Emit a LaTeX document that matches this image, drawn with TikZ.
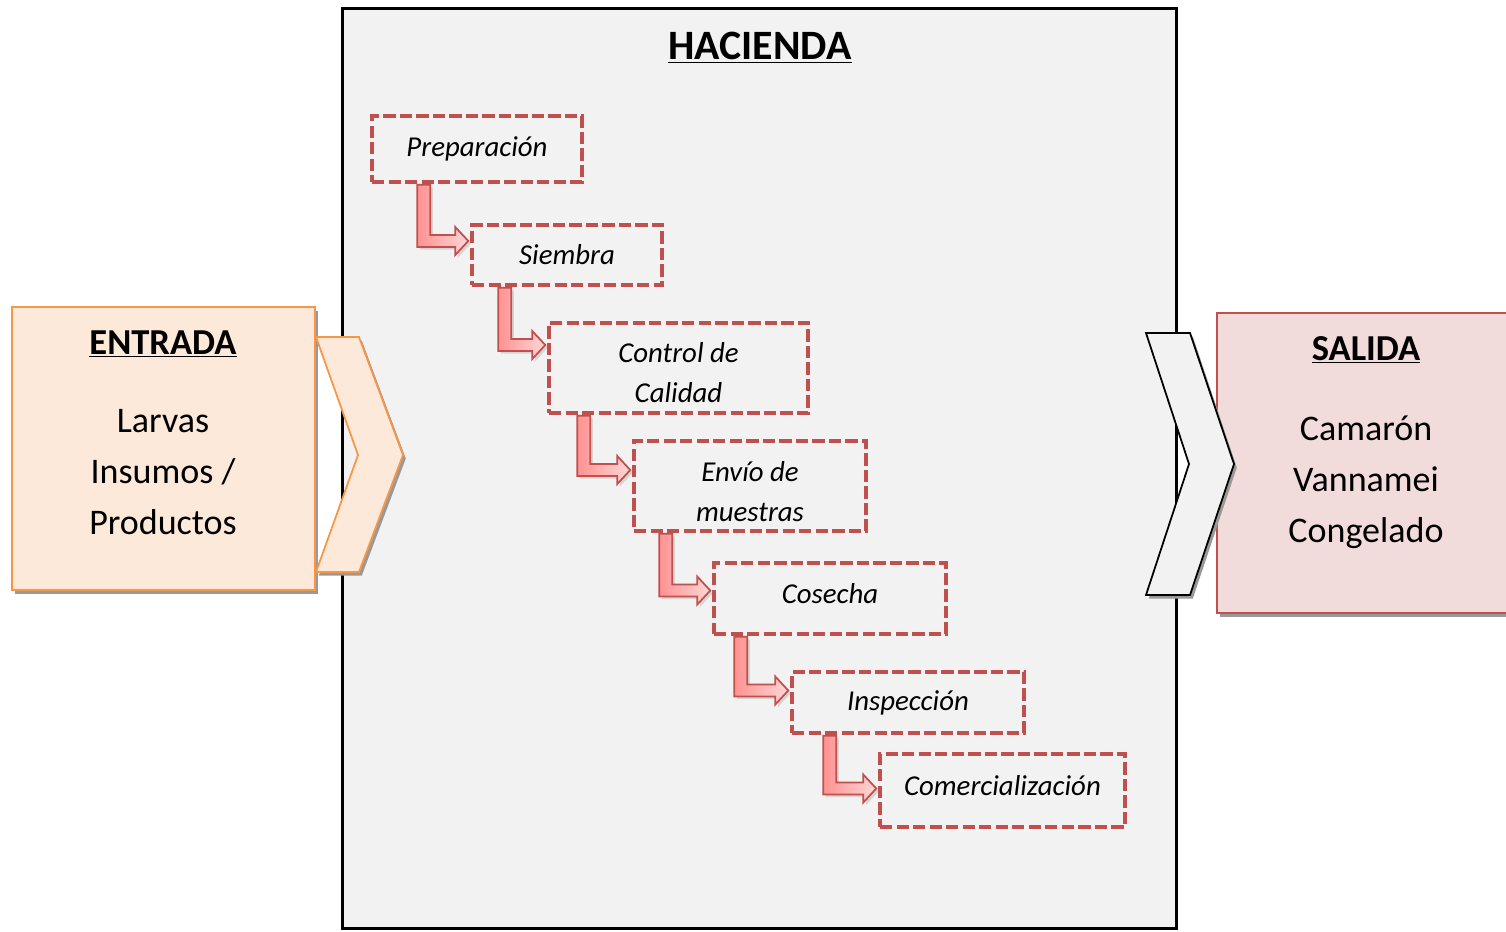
\documentclass[tikz,border=0pt]{standalone}
\usepackage{fontspec}
\setmainfont{Carlito}
\usetikzlibrary{positioning,calc,shadows}
\definecolor{fondo}{HTML}{F2F2F2}
\definecolor{naranja}{HTML}{F79646}
\definecolor{durazno}{HTML}{FDE9D9}
\definecolor{rojizo}{HTML}{C0504D}
\definecolor{rosado}{HTML}{F2DCDB}
\definecolor{flechaosc}{HTML}{FF9292}
\definecolor{flechaclara}{HTML}{FFD6D6}

\begin{document}
\begin{tikzpicture}[x=0.02cm,y=-0.02cm,
                    etapa/.style={rectangle,draw=rojizo,line width=2pt,dash pattern=on 7pt off 2.4pt,
                                  align=center,inner sep=0pt,font=\fontsize{16.4}{22.7}\selectfont\itshape},
                    sombra/.style={drop shadow={shadow xshift=1.6pt,shadow yshift=-2pt,fill=black!40,opacity=1}},
                    bent arrow/.style={left color=flechaosc,right color=flechaclara,draw=rojizo,line width=1pt,
                                  drop shadow={shadow xshift=1.5pt,shadow yshift=-1.5pt,opacity=0.25}},
                    titulo/.style={font=\fontsize{20.8}{24}\selectfont\bfseries},
                    cuerpo/.style={font=\fontsize{20.5}{28.9}\selectfont,align=center}
                   ]
  \useasboundingbox (0,0) rectangle (1506,931);

  % hacienda
  \node[draw=black,line width=1.7pt,fill=fondo,minimum width=16.7cm,minimum height=18.42cm,inner sep=0pt] (hacienda) at (759.5,468.5) {};
  \node[font=\fontsize{23.8}{28}\selectfont\bfseries] (haciendaTitulo) at (760,48) {\underline{HACIENDA}};

  % entrada
  \node[sombra,draw=naranja,line width=1pt,fill=durazno,minimum width=6.06cm,minimum height=5.66cm] (entrada) at (163.5,448.5) {};
  \node[titulo] (entradaTitulo) at (163,344) {\underline{ENTRADA}};
  \node[cuerpo] (insumos) at (163,472) {Larvas\\Insumos /\\Productos};
  \draw[sombra,draw=naranja,line width=1pt,fill=durazno] (316,337) -- (359,337) -- (403,455) -- (359,572) -- (316,572) -- (358,455) -- cycle;

  % salida
  \node[sombra,draw=rojizo,line width=1pt,fill=rosado,minimum width=5.84cm,minimum height=6cm] (salida) at (1363,463) {};
  \node[titulo] (salidaTitulo) at (1366,350) {\underline{SALIDA}};
  \node[cuerpo] (camaron) at (1366,482) {Camarón\\Vannamei\\Congelado};
  \draw[sombra,draw=black,line width=1pt,fill=fondo] (1146,333) -- (1190,333) -- (1234,464) -- (1190,595) -- (1146,595) -- (1189,464) -- cycle;

  % etapas
  \node[etapa,minimum width=4.2cm,minimum height=1.32cm] (1) at (477,149) {Preparación};
  \node[etapa,minimum width=3.8cm,minimum height=1.2cm] (2) at (567,255) {Siembra};
  \node[etapa,minimum width=5.18cm,minimum height=1.8cm,text height=39.7pt] (3) at (678.5,368) {Control de\\Calidad};
  \node[etapa,minimum width=4.64cm,minimum height=1.8cm,text height=40.3pt] (4) at (750,486) {Envío de\\muestras};
  \node[etapa,minimum width=4.64cm,minimum height=1.42cm,text depth=5.6pt] (5) at (830,598.5) {Cosecha};
  \node[etapa,minimum width=4.64cm,minimum height=1.22cm] (6) at (908,702.5) {Inspección};
  \node[etapa,minimum width=4.9cm,minimum height=1.46cm,text depth=5.6pt] (7) at (1002.5,790.5) {Comercialización};

  \foreach \a/\b/\s/\v in {1/2/47/-14,2/3/28/-23,3/4/30/-16,4/5/27/-8,5/6/22/-12,6/7/33/-2}{
    \path (\a.south west) ++(\s,1) coordinate (stem) (\b.west) ++(-2,\v) coordinate (tip);
    \draw[bent arrow] (stem) -- ++(13,0) |- ($(tip)+(-13,-6)$) -- ++(0,-8) -- (tip) -- ++(-13,14) -- ++(0,-8) -| (stem) -- cycle;
  }
\end{tikzpicture}
\end{document}
